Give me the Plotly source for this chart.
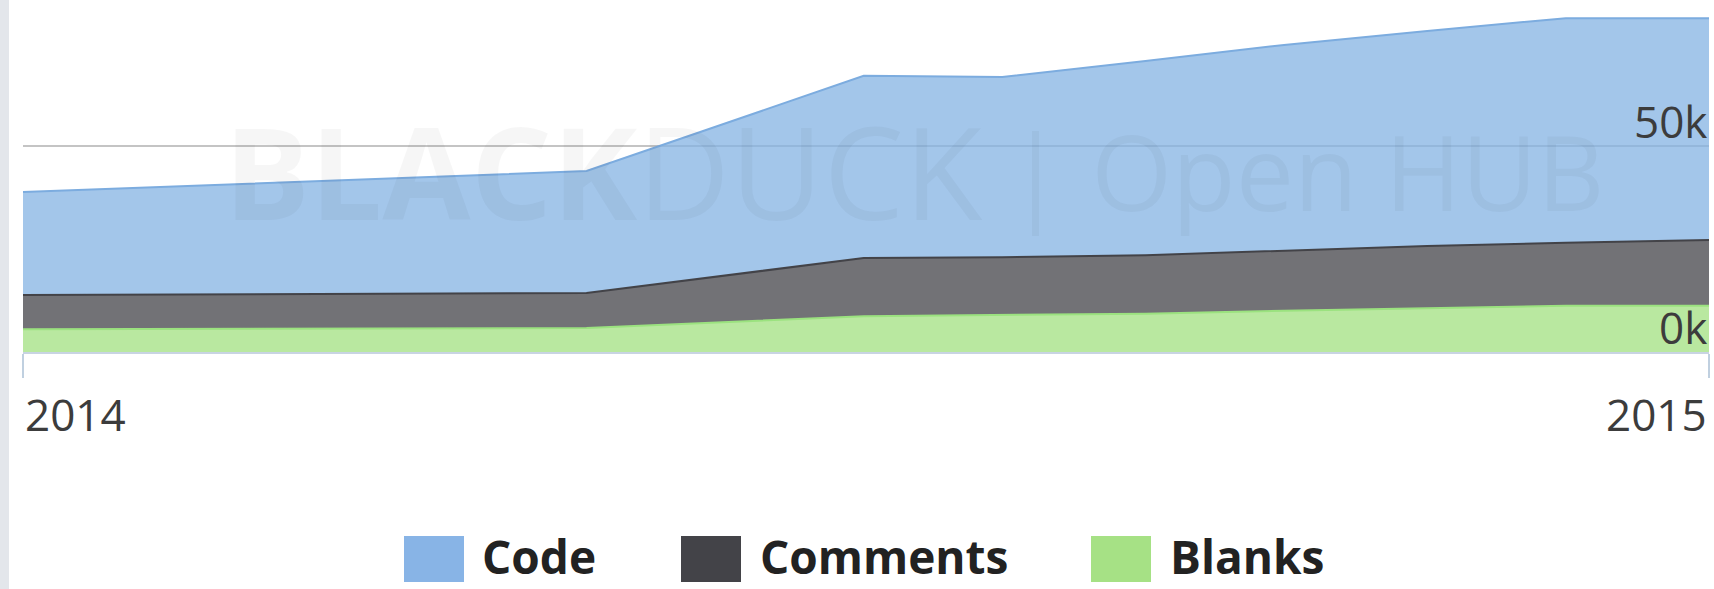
import plotly.graph_objects as go

# ---- data ----
dates = ["2014-01-01", "2014-05-03", "2014-07-02", "2014-08-01", "2014-09-01",
         "2014-10-01", "2014-11-01", "2014-12-01", "2015-01-01"]
code = [25000, 29600, 44200, 43700, 47100, 50000, 52200, 54500, 53800]
comments = [8300, 8500, 14100, 14000, 14200, 14500, 15000, 15300, 16000]
blanks = [5500, 5800, 8700, 9000, 9300, 10000, 10700, 11200, 11200]

series_names = ["Code", "Comments", "Blanks"]
x_tick_vals = ["2014-01-01", "2015-01-01"]
x_tick_text = ["2014", "2015"]
y_tick_vals = [0, 50000]
y_tick_text = ["0k", "50k"]

# ---- styling ----
W, H = 1714, 589
L, R, T, B = 23, 5, 0, 237
PW, PH = W - L - R, H - T - B
FONT = "Open Sans, Liberation Sans, sans-serif"

fills = {"Code": "rgba(132,179,227,0.75)", "Comments": "rgba(67,67,72,0.75)",
         "Blanks": "rgba(162,224,128,0.75)"}
lines = {"Code": "#7cacdf", "Comments": "#434348", "Blanks": "#9be27f"}
swatch = {"Code": "#88b4e6", "Comments": "#434348", "Blanks": "#a6e185"}


def px(x):
    return (x - L) / PW


def py(y):
    return (H - B - y) / PH


fig = go.Figure()
for name, vals in [("Blanks", blanks), ("Comments", comments), ("Code", code)]:
    fig.add_trace(go.Scatter(
        x=dates, y=vals, name=name, mode="lines", stackgroup="one",
        line=dict(color=lines[name], width=2), fillcolor=fills[name],
        showlegend=False,
    ))

fig.update_layout(
    width=W, height=H,
    margin=dict(l=L, r=R, t=T, b=B, pad=0),
    paper_bgcolor="white", plot_bgcolor="white",
    font=dict(family=FONT, color="#444444"),
    showlegend=False,
)
fig.update_xaxes(
    type="date", range=["2014-01-01", "2015-01-01"],
    tickvals=x_tick_vals, ticktext=x_tick_text, showticklabels=False,
    ticks="outside", ticklen=24, tickwidth=1.5, tickcolor="#c0d0e0",
    showline=True, linecolor="#c8d4e2", linewidth=2,
    showgrid=False, zeroline=False, fixedrange=True,
)
fig.update_yaxes(
    range=[0, 85400], tickvals=y_tick_vals, showticklabels=False,
    showgrid=True, gridcolor="#c4c4c4", gridwidth=1.5,
    zeroline=False, showline=False, ticks="",
)

annotations = []
tick_font = dict(size=44, color="#3c3c3c", family=FONT)
# x tick labels pinned to the axis ends
annotations.append(dict(x=x_tick_vals[0], xref="x", y=py(414), yref="paper",
                        text=x_tick_text[0], xanchor="left", yanchor="middle",
                        showarrow=False, font=tick_font))
annotations.append(dict(x=x_tick_vals[1], xref="x", y=py(414), yref="paper",
                        text=x_tick_text[1], xanchor="right", yanchor="middle",
                        showarrow=False, font=tick_font))
# y tick labels sitting just above their grid lines, inside the plot
for v, t in zip(y_tick_vals, y_tick_text):
    annotations.append(dict(x=1, xref="paper", y=v, yref="y", text=t,
                            xanchor="right", yanchor="bottom", yshift=-7,
                            showarrow=False, font=tick_font))

# watermark
annotations.append(dict(x=px(222), y=py(170), xref="paper", yref="paper",
                        text="<b>BLACK</b>DUCK", xanchor="left", yanchor="middle",
                        showarrow=False,
                        font=dict(size=128, color="rgba(0,0,0,0.035)", family=FONT)))
annotations.append(dict(x=px(1005), y=py(170), xref="paper", yref="paper",
                        text="| Open HUB", xanchor="left", yanchor="middle",
                        showarrow=False,
                        font=dict(size=104, color="rgba(0,0,0,0.035)", family=FONT)))

# custom legend
shapes = []
legend_items = [("Code", 404, 484), ("Comments", 681, 762), ("Blanks", 1091, 1172)]
for name, sx, tx in legend_items:
    shapes.append(dict(type="rect", xref="paper", yref="paper",
                       x0=px(sx), x1=px(sx + 60), y0=py(582), y1=py(536),
                       fillcolor=swatch[name], line=dict(width=0)))
    annotations.append(dict(x=px(tx - 4), y=py(556), xref="paper", yref="paper",
                            text="<b>%s</b>" % name, xanchor="left", yanchor="middle",
                            showarrow=False,
                            font=dict(size=46, color="#222222", family=FONT)))

# grey page strip on the left edge
shapes.append(dict(type="rect", xref="paper", yref="paper",
                   x0=px(0), x1=px(9), y0=py(H), y1=py(0),
                   fillcolor="#e3e6eb", line=dict(width=0)))

fig.update_layout(annotations=annotations, shapes=shapes)
fig.write_html("out.html", config={"displayModeBar": False},
               post_script="document.body.style.margin='0';document.body.style.overflow='hidden';")
